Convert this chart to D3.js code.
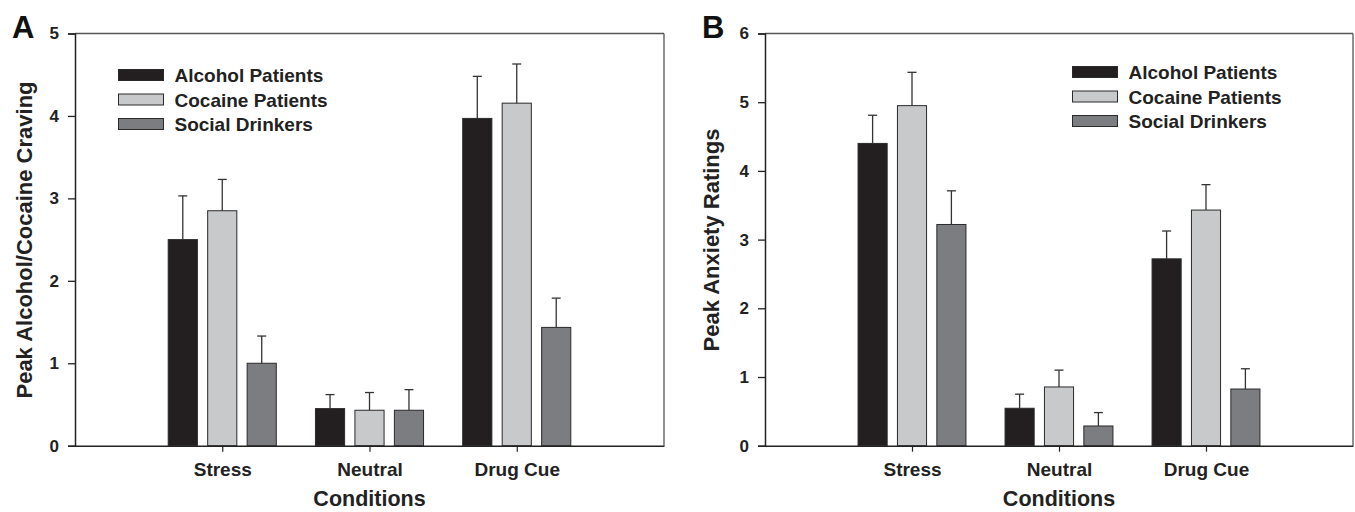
<!DOCTYPE html>
<html>
<head>
<meta charset="utf-8">
<script src="https://cdn.jsdelivr.net/npm/d3@7"></script>
<style>
  html, body { margin: 0; padding: 0; background: #fff; }
  svg { display: block; font-family: "Liberation Sans", Arial, Helvetica, sans-serif; }
</style>
</head>
<body>
<svg id="chart" width="1355" height="512"></svg>
<script>
// Conditions and groups shared by both panels
const conditions = ["Stress", "Neutral", "Drug Cue"];
const groups = ["Alcohol Patients", "Cocaine Patients", "Social Drinkers"];
const groupColors = ["#231f20", "#c8c9cb", "#7c7d81"];

// Panel A: peak alcohol/cocaine craving (means and SEM)
const cravingAlcohol = [2.50, 0.45, 3.97];
const cravingCocaine = [2.85, 0.43, 4.155];
const cravingSocial  = [1.00, 0.43, 1.435];
const cravingAlcoholSem = [0.53, 0.17, 0.51];
const cravingCocaineSem = [0.38, 0.215, 0.475];
const cravingSocialSem  = [0.33, 0.25, 0.355];
const cravingTicks = [0, 1, 2, 3, 4, 5];

// Panel B: peak anxiety ratings (means and SEM)
const anxietyAlcohol = [4.40, 0.545, 2.72];
const anxietyCocaine = [4.95, 0.855, 3.43];
const anxietySocial  = [3.22, 0.287, 0.825];
const anxietyAlcoholSem = [0.41, 0.205, 0.405];
const anxietyCocaineSem = [0.485, 0.245, 0.37];
const anxietySocialSem  = [0.49, 0.195, 0.295];
const anxietyTicks = [0, 1, 2, 3, 4, 5, 6];

const svg = d3.select("#chart");

function drawPanel(cfg) {
  const g = svg.append("g");
  const x = d3.scaleLinear().domain([0, conditions.length + 1]).range([cfg.left, cfg.right]);
  const y = d3.scaleLinear().domain([0, d3.max(cfg.ticks)]).range([cfg.bottom, cfg.top]);
  const step = x(1) - x(0);
  const pitch = step * 0.268;
  const barW = step * 0.198;

  const series = cfg.means.map((vals, gi) => ({
    color: groupColors[gi],
    rows: vals.map((v, ci) => ({ ci, v, sem: cfg.sems[gi][ci] }))
  }));

  // bars
  series.forEach((s, gi) => {
    const off = (gi - 1) * pitch;
    g.selectAll(null).data(s.rows).join("rect")
      .attr("x", d => x(d.ci + 1) + off - barW / 2)
      .attr("y", d => y(d.v))
      .attr("width", barW)
      .attr("height", d => y(0) - y(d.v))
      .attr("fill", s.color)
      .attr("stroke", "#2a2a2a")
      .attr("stroke-width", 1);

    // upper error bars
    g.selectAll(null).data(s.rows).join("line")
      .attr("x1", d => x(d.ci + 1) + off)
      .attr("x2", d => x(d.ci + 1) + off)
      .attr("y1", d => y(d.v))
      .attr("y2", d => y(d.v + d.sem))
      .attr("stroke", "#333")
      .attr("stroke-width", 1.3);
    g.selectAll(null).data(s.rows).join("line")
      .attr("x1", d => x(d.ci + 1) + off - 4.5)
      .attr("x2", d => x(d.ci + 1) + off + 4.5)
      .attr("y1", d => y(d.v + d.sem))
      .attr("y2", d => y(d.v + d.sem))
      .attr("stroke", "#333")
      .attr("stroke-width", 1.3);
  });

  // frame (top and right)
  g.append("line").attr("x1", cfg.left).attr("x2", cfg.right)
    .attr("y1", cfg.top).attr("y2", cfg.top)
    .attr("stroke", "#555").attr("stroke-width", 1.3);
  g.append("line").attr("x1", cfg.right).attr("x2", cfg.right)
    .attr("y1", cfg.top).attr("y2", cfg.bottom)
    .attr("stroke", "#555").attr("stroke-width", 1.3);

  // y axis
  const yAxis = g.append("g")
    .attr("transform", `translate(${cfg.left},0)`)
    .call(d3.axisLeft(y).tickValues(cfg.ticks).tickFormat(d3.format("d")).tickSize(7).tickPadding(9));
  yAxis.select(".domain").attr("stroke", "#222").attr("stroke-width", 1.5);
  yAxis.selectAll(".tick line").attr("stroke", "#222").attr("stroke-width", 1.3);
  yAxis.selectAll(".tick text")
    .attr("font-family", "Liberation Sans, Arial, sans-serif")
    .attr("font-size", 17).attr("font-weight", "bold").attr("fill", "#222");

  // x axis
  const xAxis = g.append("g")
    .attr("transform", `translate(0,${cfg.bottom})`)
    .call(d3.axisBottom(x).tickValues(conditions.map((c, i) => i + 1))
      .tickFormat(d => conditions[d - 1]).tickSize(6).tickSizeOuter(0).tickPadding(11));
  xAxis.select(".domain").attr("stroke", "#222").attr("stroke-width", 1.5);
  xAxis.selectAll(".tick line").attr("stroke", "#222").attr("stroke-width", 1.2);
  xAxis.selectAll(".tick text")
    .attr("font-family", "Liberation Sans, Arial, sans-serif")
    .attr("font-size", 19).attr("font-weight", "bold").attr("fill", "#222");

  // axis titles
  g.append("text")
    .attr("x", (cfg.left + cfg.right) / 2).attr("y", 506)
    .attr("text-anchor", "middle")
    .attr("font-size", 21.5).attr("font-weight", "bold").attr("fill", "#222")
    .text("Conditions");
  g.append("text")
    .attr("transform", `translate(${cfg.titleX},240) rotate(-90)`)
    .attr("text-anchor", "middle")
    .attr("font-size", 22).attr("font-weight", "bold").attr("fill", "#222")
    .text(cfg.yTitle);

  // panel letter
  g.append("text")
    .attr("x", cfg.letterX).attr("y", 38)
    .attr("font-size", 31).attr("font-weight", "bold").attr("fill", "#111")
    .text(cfg.letter);

  // legend
  const lg = g.append("g").attr("transform", `translate(${cfg.legendX},${cfg.legendY})`);
  groups.forEach((name, i) => {
    lg.append("rect")
      .attr("x", 0).attr("y", i * 24.5 - 5.5)
      .attr("width", 45).attr("height", 11)
      .attr("fill", groupColors[i]).attr("stroke", "#2a2a2a").attr("stroke-width", 1);
    lg.append("text")
      .attr("x", 56).attr("y", i * 24.5 + 7)
      .attr("font-size", 19).attr("font-weight", "bold").attr("fill", "#222")
      .text(name);
  });
}

drawPanel({
  left: 75, right: 664, top: 33.5, bottom: 445.7,
  ticks: cravingTicks,
  means: [cravingAlcohol, cravingCocaine, cravingSocial],
  sems: [cravingAlcoholSem, cravingCocaineSem, cravingSocialSem],
  yTitle: "Peak Alcohol/Cocaine Craving", titleX: 32,
  letter: "A", letterX: 12,
  legendX: 118.5, legendY: 75
});

drawPanel({
  left: 765, right: 1353, top: 33.5, bottom: 445.7,
  ticks: anxietyTicks,
  means: [anxietyAlcohol, anxietyCocaine, anxietySocial],
  sems: [anxietyAlcoholSem, anxietyCocaineSem, anxietySocialSem],
  yTitle: "Peak Anxiety Ratings", titleX: 719,
  letter: "B", letterX: 702,
  legendX: 1072.5, legendY: 72
});
</script>
</body>
</html>
